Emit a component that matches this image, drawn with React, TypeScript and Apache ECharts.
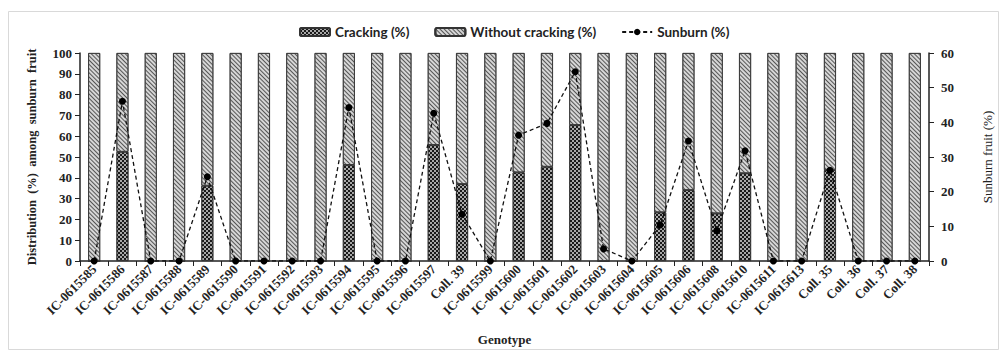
import React, { useEffect, useRef } from "react";
import * as echarts from "echarts";

const categories = [
  "IC-0615585", "IC-0615586", "IC-0615587", "IC-0615588", "IC-0615589", "IC-0615590",
  "IC-0615591", "IC-0615592", "IC-0615593", "IC-0615594", "IC-0615595", "IC-0615596",
  "IC-0615597", "Coll. 39", "IC-0615599", "IC-0615600", "IC-0615601", "IC-0615602",
  "IC-0615603", "IC-0615604", "IC-0615605", "IC-0615606", "IC-0615608", "IC-0615610",
  "IC-0615611", "IC-0615613", "Coll. 35", "Coll. 36", "Coll. 37", "Coll. 38",
];

const cracking = [
  0, 52.5, 0, 0, 36.2, 0,
  0, 0, 0, 46.2, 0, 0,
  55.8, 37.0, 0, 42.6, 45.3, 65.4,
  0, 0, 23.4, 34.1, 22.9, 42.2,
  0, 0, 43.7, 0, 0, 0,
];

const withoutCracking = cracking.map((c) => +(100 - c).toFixed(1));

const sunburn = [
  0, 46.1, 0, 0, 24.3, 0,
  0, 0, 0, 44.3, 0, 0,
  42.6, 13.5, 0, 36.3, 39.7, 54.6,
  3.5, 0, 10.4, 34.6, 8.7, 31.8,
  0, 0, 26.2, 0, 0, 0,
];

const leftTicks = { min: 0, max: 100, interval: 10 };
const rightTicks = { min: 0, max: 60, interval: 10 };

const serif = "'Liberation Serif', 'DejaVu Serif', serif";
const sans = "Lato, 'Open Sans', sans-serif";

export default function App() {
  const ref = useRef<HTMLDivElement>(null);
  useEffect(() => {
    if (!ref.current) return;
    const chart = echarts.init(ref.current, null, { renderer: "svg" });
    const crackDecal = {
      symbol: "rect",
      symbolSize: 1,
      dashArrayX: [[2, 2], [0, 2, 2, 0]],
      dashArrayY: [2, 0],
      color: "#1a1a1a",
      backgroundColor: "#a8a8a8",
    };
    const hatchDecal = {
      symbol: "rect",
      symbolSize: 1,
      dashArrayX: [1, 0],
      dashArrayY: [1, 2],
      rotation: Math.PI / 4,
      color: "#555555",
      backgroundColor: "#d6d6d6",
    };
    chart.setOption({
      animation: false,
      backgroundColor: "#ffffff",
      graphic: [
        {
          type: "rect",
          shape: { x: 8.5, y: 11.5, width: 990, height: 338 },
          style: { fill: "none", stroke: "#d9d9d9", lineWidth: 1 },
          silent: true,
        },
      ],
      legend: {
        top: 20,
        left: 294,
        itemGap: 25,
        itemWidth: 30,
        itemHeight: 8,
        textStyle: { fontFamily: sans, fontWeight: "bold", fontSize: 13.5, color: "#222" },
        data: ["Cracking (%)", "Without cracking (%)", "Sunburn (%)"],
      },
      grid: { left: 80, right: 50, top: 53, bottom: 91 },
      xAxis: {
        type: "category",
        data: categories,
        name: "Genotype",
        nameLocation: "middle",
        nameGap: 72,
        nameTextStyle: { fontFamily: serif, fontWeight: "bold", fontSize: 13, color: "#222" },
        axisLine: { lineStyle: { color: "#222", width: 1.5 } },
        axisTick: { show: true, inside: false, length: 5, lineStyle: { color: "#222" } },
        axisLabel: {
          rotate: 45,
          interval: 0,
          margin: 6,
          fontFamily: serif,
          fontWeight: "bold",
          fontSize: 13,
          color: "#222",
        },
      },
      yAxis: [
        {
          type: "value",
          ...leftTicks,
          name: "Distribution  (%)  among  sunburn  fruit",
          nameLocation: "middle",
          nameGap: 42,
          nameRotate: 90,
          nameTextStyle: { fontFamily: serif, fontWeight: "bold", fontSize: 12.5, color: "#222" },
          axisLine: { show: true, lineStyle: { color: "#222", width: 1.5 } },
          axisTick: { show: true, length: 5, lineStyle: { color: "#222" } },
          axisLabel: { fontFamily: serif, fontWeight: "bold", fontSize: 13, color: "#222", margin: 8 },
          splitLine: { show: false },
        },
        {
          type: "value",
          ...rightTicks,
          position: "right",
          name: "Sunburn fruit (%)",
          nameLocation: "middle",
          nameGap: 52,
          nameRotate: 90,
          nameTextStyle: { fontFamily: serif, fontSize: 13, color: "#222" },
          axisLine: { show: true, lineStyle: { color: "#222", width: 1.5 } },
          axisTick: { show: true, length: 5, lineStyle: { color: "#222" } },
          axisLabel: { fontFamily: serif, fontWeight: "bold", fontSize: 13, color: "#222", margin: 12 },
          splitLine: { show: false },
        },
      ],
      series: [
        {
          name: "Cracking (%)",
          type: "bar",
          stack: "dist",
          barWidth: 12,
          data: cracking,
          itemStyle: { color: "#a8a8a8", borderColor: "#333", borderWidth: 0.8, decal: crackDecal },
        },
        {
          name: "Without cracking (%)",
          type: "bar",
          stack: "dist",
          barWidth: 12,
          data: withoutCracking,
          itemStyle: { color: "#d6d6d6", borderColor: "#333", borderWidth: 0.8, decal: hatchDecal },
        },
        {
          name: "Sunburn (%)",
          type: "line",
          yAxisIndex: 1,
          data: sunburn,
          symbol: "circle",
          symbolSize: 7,
          z: 5,
          itemStyle: { color: "#000" },
          lineStyle: { color: "#111", width: 1.3, type: [4, 3] },
        },
      ],
    });
    return () => chart.dispose();
  }, []);
  return (
    <div
      ref={ref}
      style={{ position: "fixed", left: 0, top: 0, width: 1002, height: 352 }}
    />
  );
}
